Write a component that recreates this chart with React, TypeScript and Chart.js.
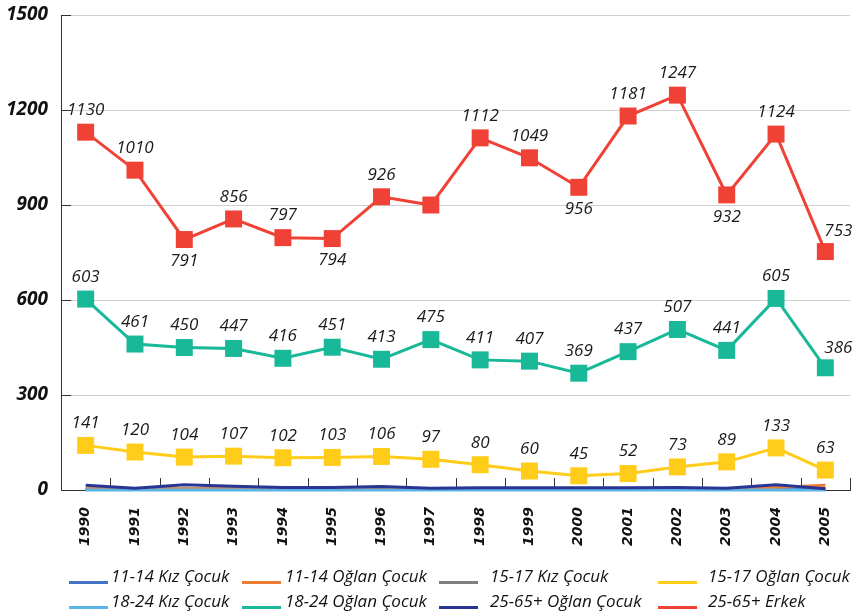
import React, { useEffect, useRef } from "react";
import { Chart, registerables } from "chart.js";

Chart.register(...registerables);

const years = ["1990","1991","1992","1993","1994","1995","1996","1997","1998","1999","2000","2001","2002","2003","2004","2005"];

const kiz1114 = [2, 2, 2, 2, 2, 2, 2, 2, 2, 2, 2, 2, 2, 2, 3, 3];
const oglan1114 = [3, 3, 3, 3, 3, 3, 3, 3, 3, 3, 3, 3, 4, 5, 8, 15];
const kiz1517 = [4, 3, 4, 4, 3, 3, 4, 3, 3, 3, 3, 3, 4, 4, 5, 5];
const oglan1517 = [141, 120, 104, 107, 102, 103, 106, 97, 80, 60, 45, 52, 73, 89, 133, 63];
const kiz1824 = [0, 0, 0, 0, 0, 0, 0, 0, 0, 0, 0, 0, 0, 0, 0, 0];
const oglan1824 = [603, 461, 450, 447, 416, 451, 413, 475, 411, 407, 369, 437, 507, 441, 605, 386];
const oglan2565 = [15, 6, 17, 12, 8, 8, 11, 6, 7, 7, 7, 7, 8, 6, 17, 4];
const erkek2565 = [1130, 1010, 791, 856, 797, 794, 926, 900, 1112, 1049, 956, 1181, 1247, 932, 1124, 753];

const redLabelPos = ["t","t","b","t","t","b","t","n","t","t","b","t","t","b","t","tr"];
const tealLabelPos = ["t","t","t","t","t","t","t","t","t","t","t","t","t","t","t","tr"];
const yellowLabelPos = ["t","t","t","t","t","t","t","t","t","t","t","t","t","t","t","t"];

const yTicks = [0, 300, 600, 900, 1200, 1500];

const labelPlugin = {
  id: "valueLabels",
  afterDatasetsDraw(chart: any) {
    const ctx = chart.ctx;
    ctx.save();
    ctx.font = "italic 17px 'Open Sans'";
    ctx.fillStyle = "#1a1a1a";
    ctx.textAlign = "center";
    ctx.textBaseline = "middle";
    chart.data.datasets.forEach((ds: any, i: number) => {
      const pos = ds.labelPos;
      if (!pos) return;
      const meta = chart.getDatasetMeta(i);
      meta.data.forEach((pt: any, j: number) => {
        const p = pos[j];
        if (p === "n") return;
        let x = pt.x, y = pt.y;
        if (p === "t") y -= 22;
        else if (p === "b") y += 22;
        else if (p === "tr") { y -= 20; x += 13; }
        ctx.fillText(String(ds.data[j]), x, y);
      });
    });
    ctx.restore();
  },
};

const innerTicksPlugin = {
  id: "innerTicks",
  beforeDatasetsDraw(chart: any) {
    const ctx = chart.ctx;
    const { left, bottom } = chart.chartArea;
    const xs = chart.scales.x;
    const ys = chart.scales.y;
    ctx.save();
    ctx.strokeStyle = "#333";
    ctx.lineWidth = 1;
    ctx.beginPath();
    ys.ticks.forEach((t: any) => {
      const y = Math.round(ys.getPixelForValue(t.value)) + 0.5;
      ctx.moveTo(left, y);
      ctx.lineTo(left + 10, y);
    });
    const n = chart.data.labels.length;
    const step = n > 1 ? xs.getPixelForValue(1) - xs.getPixelForValue(0) : 0;
    for (let i = 0; i <= n; i++) {
      const x = Math.round(xs.getPixelForValue(0) - step / 2 + i * step) + 0.5;
      ctx.moveTo(x, bottom);
      ctx.lineTo(x, bottom - 12);
    }
    ctx.stroke();
    ctx.restore();
  },
};

const legendBoxX = [69, 242, 439, 658];
const legendTextX = [111, 285, 490, 708];
const legendRowY = [577, 602];

const gridLegendPlugin = {
  id: "gridLegend",
  afterDraw(chart: any) {
    const ctx = chart.ctx;
    ctx.save();
    ctx.font = "italic 17px 'Open Sans'";
    ctx.textAlign = "left";
    ctx.textBaseline = "middle";
    chart.data.datasets.forEach((ds: any, i: number) => {
      const col = i % 4;
      const row = Math.floor(i / 4);
      const y = legendRowY[row];
      ctx.fillStyle = ds.borderColor;
      ctx.fillRect(legendBoxX[col], y + 4, 39, 3);
      ctx.fillStyle = "#111";
      ctx.fillText(ds.label, legendTextX[col], y);
    });
    ctx.restore();
  },
};

export default function App() {
  const ref = useRef<HTMLCanvasElement>(null);
  useEffect(() => {
    document.body.style.margin = "0";
    const mk = (label: string, data: number[], color: string, opts: any = {}) => ({
      label,
      data,
      borderColor: color,
      backgroundColor: color,
      borderWidth: 3,
      pointRadius: 0,
      pointHoverRadius: 0,
      tension: 0,
      clip: 4,
      ...opts,
    });
    const sq = (pos: string[]) => ({ pointStyle: "rect", pointRadius: 12, pointBorderWidth: 0, labelPos: pos });
    const chart = new Chart(ref.current!, {
      type: "line",
      data: {
        labels: years,
        datasets: [
          mk("11-14 Kız Çocuk", kiz1114, "#4472C4", { order: 2 }),
          mk("11-14 Oğlan Çocuk", oglan1114, "#ED7D31", { order: 1 }),
          mk("15-17 Kız Çocuk", kiz1517, "#7F7F7F", { order: 3 }),
          mk("15-17 Oğlan Çocuk", oglan1517, "#FFCC1A", sq(yellowLabelPos)),
          mk("18-24 Kız Çocuk", kiz1824, "#5BB4E5", { order: -1 }),
          mk("18-24 Oğlan Çocuk", oglan1824, "#18B899", sq(tealLabelPos)),
          mk("25-65+ Oğlan Çocuk", oglan2565, "#283593", { order: -2 }),
          mk("25-65+ Erkek", erkek2565, "#EF4136", sq(redLabelPos)),
        ] as any,
      },
      options: {
        animation: false,
        responsive: false,
        maintainAspectRatio: false,
        layout: { autoPadding: false, padding: { top: 15, right: 9, left: 6, bottom: 60 } },
        plugins: {
          tooltip: { enabled: false },
          legend: { display: false },
        },
        scales: {
          x: {
            offset: true,
            grid: { display: false },
            border: { display: true, color: "#333", width: 1 },
            ticks: {
              maxRotation: 90,
              minRotation: 90,
              color: "#111",
              padding: 9,
              font: { family: "'DejaVu Sans'", size: 14, style: "italic", weight: "bold" },
            },
          },
          y: {
            min: 0,
            max: 1500,
            afterBuildTicks: (axis: any) => { axis.ticks = yTicks.map((v) => ({ value: v })); },
            afterFit: (axis: any) => { axis.width = 55; axis.paddingTop = 0; axis.paddingBottom = 0; },
            grid: { color: "#d0d0d0", lineWidth: 1, drawTicks: false },
            border: { display: true, color: "#333", width: 1 },
            ticks: {
              color: "#111",
              padding: 13,
              callback: (v: any) => String(v),
              font: { family: "'Open Sans'", size: 19, style: "italic", weight: "bold" },
            },
          },
        },
      },
      plugins: [innerTicksPlugin, labelPlugin, gridLegendPlugin],
    });
    return () => chart.destroy();
  }, []);
  return <canvas ref={ref} width={859} height={615} style={{ display: "block" }} />;
}
